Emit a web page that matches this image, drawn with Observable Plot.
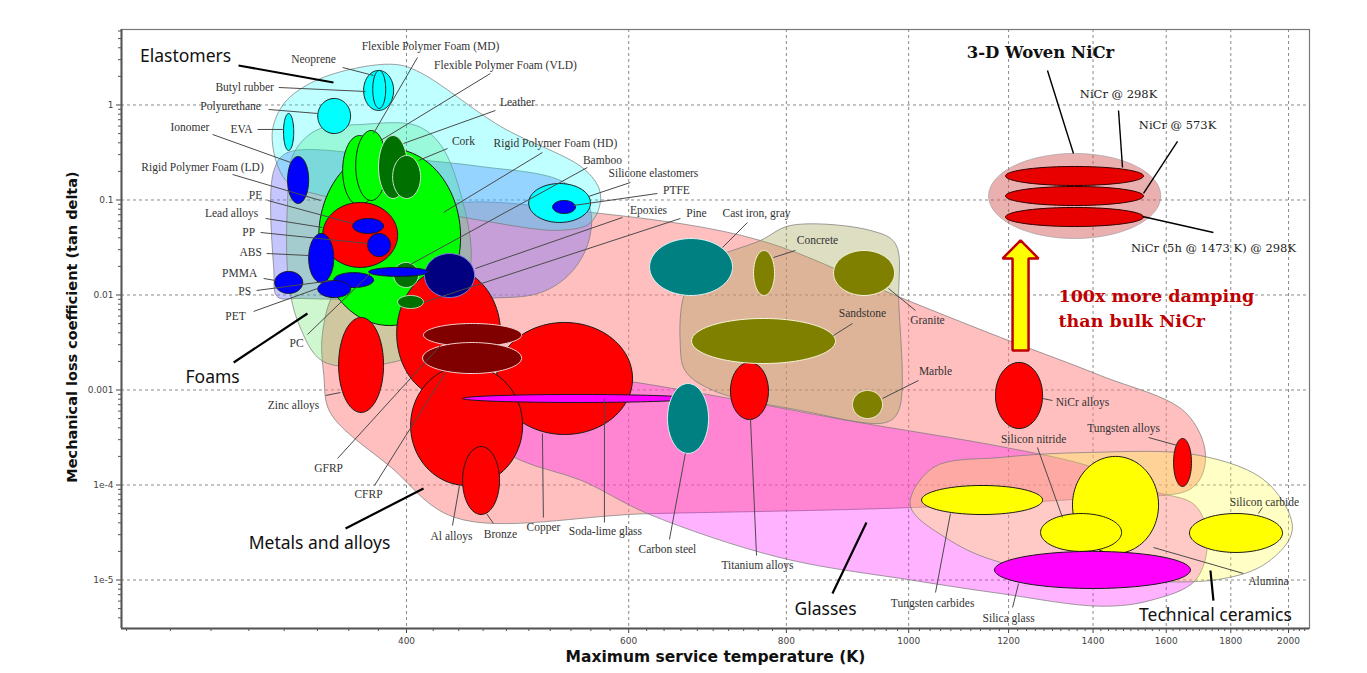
<!DOCTYPE html>
<html><head><meta charset="utf-8">
<script src="https://cdn.jsdelivr.net/npm/d3@7"></script>
<script src="https://cdn.jsdelivr.net/npm/@observablehq/plot@0.6"></script>
<style>
html,body{margin:0;padding:0;background:#fff;}
#chart{width:1367px;height:673px;overflow:hidden;}
</style></head><body><div id="chart"></div>
<script>
// ---------- axis ticks ----------
const xTicks = [400, 600, 800, 1000, 1200, 1400, 1600, 1800, 2000];
const yTicks = [1e-5, 1e-4, 1e-3, 1e-2, 1e-1, 1];
const yTickLabels = ["1e-5", "1e-4", "0.001", "0.01", "0.1", "1"];

// ---------- material property ranges (max service temperature K, loss coefficient) ----------
const elastomerMaterials = [
  {name: "Silicone elastomers", tMin: 499.9, tMax: 559.6, lossMin: 0.058, lossMax: 0.149},
  {name: "Polyurethane", tMin: 340.2, tMax: 361.2, lossMin: 0.501, lossMax: 1.171},
  {name: "EVA", tMin: 319.6, tMax: 325.6, lossMin: 0.332, lossMax: 0.814},
  {name: "Butyl rubber", tMin: 369.9, tMax: 390.7, lossMin: 0.875, lossMax: 2.31},
  {name: "Neoprene", tMin: 376.1, tMax: 385.1, lossMin: 0.919, lossMax: 2.31}
];
const polymerMaterials = [
  {name: "PTFE", tMin: 522.2, tMax: 544.5, lossMin: 0.0721, lossMax: 0.0988},
  {name: "Ionomer", tMin: 322.0, tMax: 334.6, lossMin: 0.0919, lossMax: 0.287},
  {name: "PE", tMin: 362.6, tMax: 383.6, lossMin: 0.0444, lossMax: 0.0639},
  {name: "PP", tMin: 372.6, tMax: 388.5, lossMin: 0.0254, lossMax: 0.0444},
  {name: "ABS", tMin: 334.6, tMax: 350.3, lossMin: 0.0135, lossMax: 0.0444},
  {name: "PMMA", tMin: 314.5, tMax: 331.0, lossMin: 0.01037, lossMax: 0.0177},
  {name: "PS", tMin: 350.3, tMax: 376.7, lossMin: 0.0120, lossMax: 0.0172},
  {name: "PET", tMin: 340.2, tMax: 361.2, lossMin: 0.00941, lossMax: 0.0142},
  {name: "PC", tMin: 373.3, tMax: 416.4, lossMin: 0.0157, lossMax: 0.0195}
];
const thermosetMaterials = [
  {name: "Epoxies", tMin: 413.4, tMax: 452.9, lossMin: 0.00941, lossMax: 0.0273}
];
const foamMaterials = [
  {name: "Rigid Polymer Foam (LD)", tMin: 340.8, tMax: 441.5, lossMin: 0.00477, lossMax: 0.348},
  {name: "Flexible Polymer Foam (MD)", tMin: 356.0, tMax: 378.7, lossMin: 0.0875, lossMax: 0.477},
  {name: "Flexible Polymer Foam (VLD)", tMin: 364.6, tMax: 385.8, lossMin: 0.0988, lossMax: 0.539}
];
const naturalMaterials = [
  {name: "Leather", tMin: 380.1, tMax: 400.7, lossMin: 0.1037, lossMax: 0.477},
  {name: "Cork", tMin: 390.0, tMax: 410.4, lossMin: 0.1037, lossMax: 0.294},
  {name: "Bamboo", tMin: 390.7, tMax: 408.9, lossMin: 0.0120, lossMax: 0.0220},
  {name: "Pine", tMin: 393.6, tMax: 412.6, lossMin: 0.00721, lossMax: 0.00988}
];
const metalMaterials = [
  {name: "Lead alloys", tMin: 343.3, tMax: 393.6, lossMin: 0.0195, lossMax: 0.0941},
  {name: "Unlabelled alloy", tMin: 392.9, tMax: 474.9, lossMin: 0.000814, lossMax: 0.0190},
  {name: "Zinc alloys", tMin: 353.4, tMax: 383.6, lossMin: 0.00058, lossMax: 0.0058},
  {name: "Copper", tMin: 471.4, tMax: 604.2, lossMin: 0.00034, lossMax: 0.00514},
  {name: "Al alloys", tMin: 403.0, tMax: 494.4, lossMin: 9.88e-5, lossMax: 0.00181},
  {name: "Bronze", tMin: 443.1, tMax: 474.0, lossMin: 4.89e-5, lossMax: 0.000254},
  {name: "Titanium alloys", tMin: 722.4, tMax: 774.3, lossMin: 0.000489, lossMax: 0.00195},
  {name: "NiCr alloys", tMin: 1171.6, tMax: 1276.8, lossMin: 0.000393, lossMax: 0.00195},
  {name: "Tungsten alloys", tMin: 1621.5, tMax: 1675.5, lossMin: 9.64e-5, lossMax: 0.000309}
];
const compositeMaterials = [
  {name: "GFRP", tMin: 412.6, tMax: 493.5, lossMin: 0.00287, lossMax: 0.00501},
  {name: "CFRP", tMin: 411.9, tMax: 493.5, lossMin: 0.00149, lossMax: 0.00316}
];
const ferrousMaterials = [
  {name: "Cast iron, gray", tMin: 623.3, tMax: 725.1, lossMin: 0.00988, lossMax: 0.0393},
  {name: "Carbon steel", tMin: 644.0, tMax: 694.1, lossMin: 0.000215, lossMax: 0.00117}
];
const stoneMaterials = [
  {name: "Concrete", tMin: 753.5, tMax: 782.9, lossMin: 0.00988, lossMax: 0.0294},
  {name: "Granite", tMin: 871.9, tMax: 974.6, lossMin: 0.00988, lossMax: 0.0294},
  {name: "Sandstone", tMin: 672.9, tMax: 875.0, lossMin: 0.00190, lossMax: 0.00566},
  {name: "Marble", tMin: 902.6, tMax: 953.5, lossMin: 0.000501, lossMax: 0.000988}
];
const ceramicMaterials = [
  {name: "Tungsten carbides", tMin: 1023.8, tMax: 1276.8, lossMin: 4.89e-5, lossMax: 9.88e-5},
  {name: "Alumina", tMin: 1348.4, tMax: 1577.7, lossMin: 1.90e-5, lossMax: 0.000200},
  {name: "Silicon nitride", tMin: 1272.1, tMax: 1474.8, lossMin: 2.0e-5, lossMax: 5.01e-5},
  {name: "Silicon carbide", tMin: 1669.3, tMax: 1978, lossMin: 1.95e-5, lossMax: 5.01e-5}
];
const glassMaterials = [
  {name: "Soda-lime glass", tMin: 443.1, tMax: 674.1, lossMin: 0.000739, lossMax: 0.000897},
  {name: "Silica glass", tMin: 1169.5, tMax: 1672.4, lossMin: 8.14e-6, lossMax: 2.0e-5}
];
const wovenNiCr = [
  {name: "NiCr @ 298K", tMin: 1193.2, tMax: 1535.1, lossMin: 0.1421, lossMax: 0.2253},
  {name: "NiCr @ 573K", tMin: 1193.2, tMax: 1535.1, lossMin: 0.0875, lossMax: 0.1387},
  {name: "NiCr (5h @ 1473 K) @ 298K", tMin: 1193.2, tMax: 1535.1, lossMin: 0.0526, lossMax: 0.0834}
];
const wovenNiCrEnvelope = [{name: "3-D Woven NiCr", tMin: 1157, tMax: 1584, lossMin: 0.0393, lossMax: 0.309}];

// ---------- family envelopes: boundary points [T, loss] ----------
const metalsEnvelope = [[343,0.00375],[351,0.0112],[382,0.0375],[426,0.0875],[570,0.0721],[763,0.0375],[985,0.0094],[1183,0.00357],[1419,0.00142],[1657,0.00058],[1719,0.000204],[1679,9.4e-5],[1419,7.4e-5],[1009,5.8e-5],[624,5.0e-5],[437,4.55e-5],[389,0.000153],[348,0.00058],[344,0.00142]];
const glassesEnvelope = [[437,0.000775],[493,0.00153],[570,0.00135],[700,0.000875],[895,0.000477],[1183,0.000254],[1386,0.00016],[1555,8.75e-5],[1687,6.1e-5],[1725,2.6e-5],[1687,9.9e-6],[1555,6.1e-6],[1419,5.3e-6],[1183,7.2e-6],[1009,9.9e-6],[791,1.72e-5],[621,5.0e-5],[550,0.000112],[493,0.000181],[450,0.000375]];
const ceramicsEnvelope = [[1003,6.1e-5],[1046,0.000153],[1183,0.000195],[1386,0.00022],[1703,0.000204],[1924,0.000106],[2014,3.4e-5],[1924,1.53e-5],[1757,1.01e-5],[1419,1.06e-5],[1183,1.53e-5],[1079,2.6e-5]];
const stonesEnvelope = [[662,0.00875],[672,0.0142],[690,0.022],[763,0.0375],[806,0.0539],[933,0.0477],[976,0.0348],[982,0.00875],[982,0.000609],[959,0.000455],[821,0.000609],[700,0.000988],[665,0.0016],[659,0.00332]];
const polymersEnvelope = [[314,0.204],[322,0.316],[396,0.273],[458,0.225],[530,0.160],[558,0.0875],[558,0.0375],[540,0.0172],[511,0.0106],[458,0.0092],[330,0.0092],[316,0.0096],[314,0.0181]];
const foamsEnvelope = [[322,0.0988],[325,0.294],[339,0.539],[368,0.623],[407,0.608],[426,0.375],[443,0.0988],[450,0.0231],[437,0.00539],[410,0.00248],[375,0.00181],[343,0.00202],[329,0.00477],[322.5,0.0142]];
const elastomersEnvelope = [[313,0.477],[319,0.988],[333,1.60],[358,2.31],[392,2.67],[410,2.2],[475,0.594],[555,0.204],[570,0.112],[560,0.058],[530,0.048],[458,0.061],[396,0.0875],[342,0.112],[321,0.160]];

// ---------- labels: text position and leader line ends ----------
const materialLabels = [
  {name:"Neoprene", t:337.6, loss:3.012, t1:356.0, loss1:2.481, t2:376.6, loss2:2.044},
  {name:"Butyl rubber", t:297.7, loss:1.528, t1:316.8, loss1:1.528, t2:371.2, loss2:1.387},
  {name:"Polyurethane", t:290.2, loss:0.9643, t1:311.0, loss1:0.8967, t2:340.1, loss2:0.8139},
  {name:"Ionomer", t:269.4, loss:0.5796, t1:280.8, loss1:0.4893, t2:323.8, loss2:0.2481},
  {name:"EVA", t:296.0, loss:0.5524, t1:304.8, loss1:0.5524, t2:319.7, loss2:0.5524},
  {name:"Rigid Polymer Foam (LD)", t:275.7, loss:0.2198, t1:291.2, loss1:0.1856, t2:341.9, loss2:0.0988},
  {name:"Flexible Polymer Foam (MD)", t:417.9, loss:4.129, t1:408.1, loss1:3.162, t2:376.6, loss2:0.501},
  {name:"Flexible Polymer Foam (VLD)", t:479.2, loss:2.605, t1:466.2, loss1:2.146, t2:381.5, loss2:0.4229},
  {name:"Leather", t:489.8, loss:1.0625, t1:470.5, loss1:0.8752, t2:397.8, loss2:0.3933},
  {name:"Cork", t:443.8, loss:0.4128, t1:431.1, loss1:0.3484, t2:408.9, loss2:0.2604},
  {name:"Rigid Polymer Foam (HD)", t:524.9, loss:0.3933, t1:512.6, loss1:0.3162, t2:427.9, loss2:0.07386},
  {name:"Bamboo", t:571.9, loss:0.2604, t1:556.4, loss1:0.2198, t2:401.5, loss2:0.02044},
  {name:"Silicone elastomers", t:627.7, loss:0.1901, t1:601.9, loss1:0.1528, t2:557.5, loss2:0.1088},
  {name:"PTFE", t:654.6, loss:0.1259, t1:632.3, loss1:0.1171, t2:542.4, loss2:0.08752},
  {name:"Epoxies", t:622.0, loss:0.07752, t1:593.2, loss1:0.06546, t2:453.6, loss2:0.01901},
  {name:"Pine", t:679.0, loss:0.0721, t1:659.4, loss1:0.06389, t2:412.6, loss2:0.00834},
  {name:"Cast iron, gray", t:757.6, loss:0.0721, t1:745.2, loss1:0.05797, t2:712.0, loss2:0.03162},
  {name:"Concrete", t:846.7, loss:0.03747, t1:813.4, loss1:0.02941, t2:781.4, loss2:0.02481},
  {name:"Granite", t:1034.9, loss:0.00539, t1:1012.5, loss1:0.00687, t2:963.8, loss2:0.01171},
  {name:"Sandstone", t:919.2, loss:0.00639, t1:902.6, loss1:0.00501, t2:871.8, loss2:0.003747},
  {name:"Marble", t:1050.2, loss:0.001566, t1:1018.1, loss1:0.001259, t2:953.3, loss2:0.000814},
  {name:"NiCr alloys", t:1373.2, loss:0.000739, t1:1300.0, loss1:0.000775, t2:1276.5, loss2:0.000814},
  {name:"Tungsten alloys", t:1480.0, loss:0.0003933, t1:1549.1, loss1:0.0003162, t2:1633.3, loss2:0.0002604},
  {name:"Silicon nitride", t:1256.2, loss:0.0003013, t1:1264.9, loss1:0.0002481, t2:1324.0, loss2:4.547e-5},
  {name:"Silicon carbide", t:1913.9, loss:6.544e-5, t1:1907.0, loss1:5.797e-5, t2:1893.1, loss2:5.012e-5},
  {name:"Alumina", t:1928.0, loss:9.643e-6, t1:1842.0, loss1:1.171e-5, t2:1563.3, loss2:2.198e-5},
  {name:"Tungsten carbides", t:1044.6, loss:5.656e-6, t1:1050.2, loss1:7.386e-6, t2:1079.3, loss2:5.012e-5},
  {name:"Silica glass", t:1200.0, loss:3.933e-6, t1:1208.8, loss1:5.135e-6, t2:1222.0, loss2:9.187e-6},
  {name:"Titanium alloys", t:759.0, loss:1.421e-5, t1:757.6, loss1:1.811e-5, t2:749.3, loss2:0.000501},
  {name:"Carbon steel", t:643.9, loss:2.095e-5, t1:646.3, loss1:2.669e-5, t2:665.4, loss2:0.0002146},
  {name:"Soda-lime glass", t:575.0, loss:3.240e-5, t1:574.0, loss1:4.029e-5, t2:574.0, loss2:0.000814},
  {name:"Copper", t:513.5, loss:3.570e-5, t1:513.5, loss1:4.547e-5, t2:512.6, loss2:0.0003484},
  {name:"Bronze", t:474.8, loss:3.013e-5, t1:468.8, loss1:3.933e-5, t2:462.8, loss2:5.012e-5},
  {name:"Al alloys", t:434.2, loss:2.871e-5, t1:435.0, loss1:3.747e-5, t2:440.6, loss2:9.880e-5},
  {name:"CFRP", t:373.2, loss:7.943e-5, t1:377.3, loss1:9.880e-5, t2:429.5, loss2:0.001528},
  {name:"GFRP", t:347.0, loss:0.0001492, t1:352.7, loss1:0.0001901, t2:425.6, loss2:0.002941},
  {name:"Zinc alloys", t:325.5, loss:0.000687, t1:345.1, loss1:0.000875, t2:354.6, loss2:0.000941},
  {name:"PC", t:327.3, loss:0.003087, t1:333.9, loss1:0.003838, t2:374.6, loss2:0.01684},
  {name:"PET", t:292.8, loss:0.00594, t1:302.6, loss1:0.00671, t2:340.1, loss2:0.01171},
  {name:"PS", t:297.7, loss:0.01088, t1:304.3, loss1:0.01115, t2:349.5, loss2:0.01421},
  {name:"PMMA", t:295.0, loss:0.01684, t1:308.2, loss1:0.01492, t2:315.0, loss2:0.01421},
  {name:"ABS", t:301.0, loss:0.02801, t1:309.9, loss1:0.02734, t2:334.5, loss2:0.02604},
  {name:"PP", t:299.9, loss:0.04547, t1:306.5, loss1:0.04547, t2:372.5, loss2:0.03484},
  {name:"Lead alloys", t:290.7, loss:0.0721, t1:309.3, loss1:0.06389, t2:343.2, loss2:0.05135},
  {name:"PE", t:303.7, loss:0.1115, t1:310.5, loss1:0.0988, t2:362.5, loss2:0.05656}
];
const familyLabels = [
  {name:"Elastomers", t:267.3, loss:3.24, t1:294.4, loss1:2.605, t2:350.1, loss2:1.725},
  {name:"Foams", t:280.8, loss:0.001354, t1:291.8, loss1:0.001948, t2:333.9, loss2:0.00639},
  {name:"Metals and alloys", t:341.3, loss:2.422e-5, t1:357.9, loss1:3.484e-5, t2:412.6, loss2:9.187e-5},
  {name:"Glasses", t:859.2, loss:4.893e-6, t1:870.2, loss1:7.21e-6, t2:925.9, loss2:4.029e-5},
  {name:"Technical ceramics", t:1750.3, loss:4.23e-6, t1:1743.9, loss1:6.082e-6, t2:1734.4, loss2:1.259e-5}
];
const nicrLabels = [
  {name:"NiCr @ 298K", t:1466.6, loss:1.290, t1:1466.6, loss1:0.8752, t2:1477.3, loss2:0.2198},
  {name:"NiCr @ 573K", t:1633.3, loss:0.6082, t1:1633.3, loss1:0.4128, t2:1535.0, loss2:0.1171},
  {name:"NiCr (5h @ 1473 K) @ 298K", t:1743.9, loss:0.03087, t1:1743.9, loss1:0.04547, t2:1532.2, loss2:0.06707}
];
const nicrTitle = [{name:"3-D Woven NiCr", t:1271.9, loss:3.57, t1:1288.2, loss1:2.308, t2:1350.8, loss2:0.3087}];
const dampingNote = [
  {text:"100x more damping", t:1314.4, loss:0.00964},
  {text:"than bulk NiCr", t:1314.4, loss:0.00526}
];
const dampingArrow = {t:1226.5, lossTail:0.0026, lossHeadBase:0.0242, lossTip:0.0375};

// ---------- styling ----------
const X_DOMAIN = [237.8, 2078];
const Y_DOMAIN = [3.087e-6, 6.23];
const familyStyle = new Map([
  [elastomerMaterials, {fill:"#00ffff", stroke:"#1a1a1a"}],
  [polymerMaterials, {fill:"#0000ff", stroke:"#1a1a1a"}],
  [thermosetMaterials, {fill:"#000080", stroke:"#8080e0"}],
  [foamMaterials, {fill:"#00ff00", stroke:"#1a1a1a"}],
  [naturalMaterials, {fill:"#007000", stroke:"#d0e8d0"}],
  [metalMaterials, {fill:"#ff0000", stroke:"#1a1a1a"}],
  [compositeMaterials, {fill:"#800000", stroke:"#f0d0d0"}],
  [ferrousMaterials, {fill:"#008080", stroke:"#e0f4f4"}],
  [stoneMaterials, {fill:"#808000", stroke:"#f4f4d8"}],
  [ceramicMaterials, {fill:"#ffff00", stroke:"#1a1a1a"}],
  [glassMaterials, {fill:"#ff00ff", stroke:"#1a1a1a"}],
  [wovenNiCr, {fill:"#e80000", stroke:"#300000"}]
]);
const lookup = new Map();
for (const [arr, st] of familyStyle) for (const d of arr) lookup.set(d.name, {d, st});

const drawOrder = [
  "Silicone elastomers","PTFE","Polyurethane","EVA","Butyl rubber","Neoprene","Ionomer",
  "Rigid Polymer Foam (LD)","Flexible Polymer Foam (MD)","Flexible Polymer Foam (VLD)","Leather","Cork",
  "Lead alloys","PE","PP","ABS","PMMA",
  "Unlabelled alloy","Zinc alloys","Copper","Al alloys","Bronze",
  "Epoxies","Bamboo","Pine","PS","PET","PC","GFRP","CFRP","Soda-lime glass",
  "Cast iron, gray","Carbon steel","Titanium alloys","Concrete","Granite","Sandstone","Marble",
  "NiCr alloys","Tungsten alloys","Tungsten carbides","Alumina","Silicon nitride","Silicon carbide","Silica glass",
  "NiCr @ 298K","NiCr @ 573K","NiCr (5h @ 1473 K) @ 298K"
];

function ellipsePoints(d, n = 96) {
  const lx0 = (Math.log10(d.tMin) + Math.log10(d.tMax)) / 2, rx = (Math.log10(d.tMax) - Math.log10(d.tMin)) / 2;
  const ly0 = (Math.log10(d.lossMin) + Math.log10(d.lossMax)) / 2, ry = (Math.log10(d.lossMax) - Math.log10(d.lossMin)) / 2;
  return d3.range(n).map(i => {
    const a = i / n * 2 * Math.PI;
    return {t: 10 ** (lx0 + rx * Math.cos(a)), loss: 10 ** (ly0 + ry * Math.sin(a))};
  });
}
function envelope(pts, fill, opacity) {
  return Plot.line(pts, {x: d => d[0], y: d => d[1], curve: "catmull-rom-closed",
    fill, fillOpacity: opacity, stroke: "#777", strokeOpacity: 0.7, strokeWidth: 1});
}

// arrow outline computed from the arrow record (shape proportions are style constants)
const SHAFT = 10 ** (8 / 1262), HEAD = 10 ** (18 / 1262);
const a = dampingArrow;
const arrowPts = [
  [a.t / SHAFT, a.lossTail], [a.t * SHAFT, a.lossTail], [a.t * SHAFT, a.lossHeadBase],
  [a.t * HEAD, a.lossHeadBase], [a.t, a.lossTip], [a.t / HEAD, a.lossHeadBase], [a.t / SHAFT, a.lossHeadBase]
];

const minorX = d3.range(240, 2080, 20).filter(v => !xTicks.includes(v));
const minorY = [];
for (let k = -6; k <= 0; k++) for (let m = 2; m <= 9; m++) {
  const v = m * 10 ** k;
  if (v > Y_DOMAIN[0] && v < Y_DOMAIN[1]) minorY.push(v);
}

const W = 1367, H = 673, ML = 121, MR = 58, MT = 29, MB = 45;
const frameW = W - ML - MR, frameH = H - MT - MB;

const marks = [
  Plot.ruleX(xTicks, {stroke: "#8a8a8a", strokeDasharray: "3,3", strokeWidth: 1}),
  Plot.ruleY(yTicks, {stroke: "#8a8a8a", strokeDasharray: "3,3", strokeWidth: 1}),
  envelope(metalsEnvelope, "#ff7f7f", 0.5),
  envelope(glassesEnvelope, "#ff00ff", 0.3),
  envelope(ceramicsEnvelope, "#ffff40", 0.3),
  envelope(stonesEnvelope, "#a0a050", 0.35),
  envelope(polymersEnvelope, "#7070ff", 0.4),
  envelope(foamsEnvelope, "#40e040", 0.25),
  envelope(elastomersEnvelope, "#00ffff", 0.25),
  Plot.line(ellipsePoints(wovenNiCrEnvelope[0]), {x: "t", y: "loss", curve: "linear-closed",
    fill: "#d05050", fillOpacity: 0.45, stroke: "#999", strokeOpacity: 0.6, strokeWidth: 1}),
  ...drawOrder.map(n => {
    const {d, st} = lookup.get(n);
    return Plot.line(ellipsePoints(d), {x: "t", y: "loss", curve: "linear-closed",
      fill: st.fill, stroke: st.stroke, strokeWidth: 1});
  }),
  // leader lines
  Plot.link(materialLabels, {x1: "t1", y1: "loss1", x2: "t2", y2: "loss2", stroke: "#4a4a4a", strokeWidth: 1}),
  Plot.link(familyLabels, {x1: "t1", y1: "loss1", x2: "t2", y2: "loss2", stroke: "#000", strokeWidth: 2.2}),
  Plot.link(nicrLabels, {x1: "t1", y1: "loss1", x2: "t2", y2: "loss2", stroke: "#000", strokeWidth: 1.4}),
  Plot.link(nicrTitle, {x1: "t1", y1: "loss1", x2: "t2", y2: "loss2", stroke: "#000", strokeWidth: 1.4}),
  // texts
  Plot.text(materialLabels, {x: "t", y: "loss", text: "name", fontFamily: "Liberation Serif",
    fontSize: 11.5, fill: "#333"}),
  Plot.text(familyLabels, {x: "t", y: "loss", text: "name", fontFamily: "Noto Sans",
    fontSize: 17.5, fill: "#111"}),
  Plot.text(nicrLabels, {x: "t", y: "loss", text: "name", fontFamily: "DejaVu Serif",
    fontSize: 11.5, fill: "#222"}),
  Plot.text(nicrTitle, {x: "t", y: "loss", text: "name", fontFamily: "DejaVu Serif",
    fontWeight: "bold", fontSize: 16.5, fill: "#111"}),
  Plot.text(dampingNote, {x: "t", y: "loss", text: "text", textAnchor: "start", fontFamily: "DejaVu Serif",
    fontWeight: "bold", fontSize: 17.5, fill: "#c00000"}),
  // arrow
  Plot.line(arrowPts, {x: d => d[0], y: d => d[1], curve: "linear-closed",
    fill: "#ffff00", stroke: "#c00000", strokeWidth: 2.5, strokeLinejoin: "miter"}),
  // frame, axes lines, minor ticks
  Plot.frame({stroke: "#777", strokeWidth: 1.2}),
  Plot.ruleX([X_DOMAIN[0]], {stroke: "#555", strokeWidth: 2}),
  Plot.ruleY([Y_DOMAIN[0]], {stroke: "#555", strokeWidth: 2}),
  Plot.ruleX(minorX, {stroke: "#555", insetTop: frameH, insetBottom: -3}),
  Plot.ruleY(minorY, {stroke: "#555", insetRight: frameW, insetLeft: -3}),
  // axis titles
  Plot.text(["Maximum service temperature (K)"], {frameAnchor: "bottom", dy: 29, text: d => d,
    textAnchor: "middle", lineAnchor: "middle",
    fontFamily: "DejaVu Sans", fontWeight: "bold", fontSize: 15.5, fill: "#111"}),
  Plot.text(["Mechanical loss coefficient (tan delta)"], {frameAnchor: "left", dx: -49, dy: -2, rotate: -90, text: d => d,
    textAnchor: "middle", lineAnchor: "middle",
    fontFamily: "DejaVu Sans", fontWeight: "bold", fontSize: 14.5, fill: "#111"})
];

const chart = Plot.plot({
  width: W, height: H,
  marginLeft: ML, marginRight: MR, marginTop: MT, marginBottom: MB,
  style: {fontFamily: "DejaVu Sans", fontSize: "9px", color: "#444", background: "#fff", overflow: "visible"},
  x: {type: "log", domain: X_DOMAIN, ticks: xTicks, tickFormat: d => String(d), tickSize: 5, tickPadding: 4, label: null},
  y: {type: "log", domain: Y_DOMAIN, ticks: yTicks, tickFormat: d => yTickLabels[yTicks.indexOf(d)], tickSize: 5, tickPadding: 3, label: null},
  marks
});
document.getElementById("chart").appendChild(chart);
</script></body></html>
